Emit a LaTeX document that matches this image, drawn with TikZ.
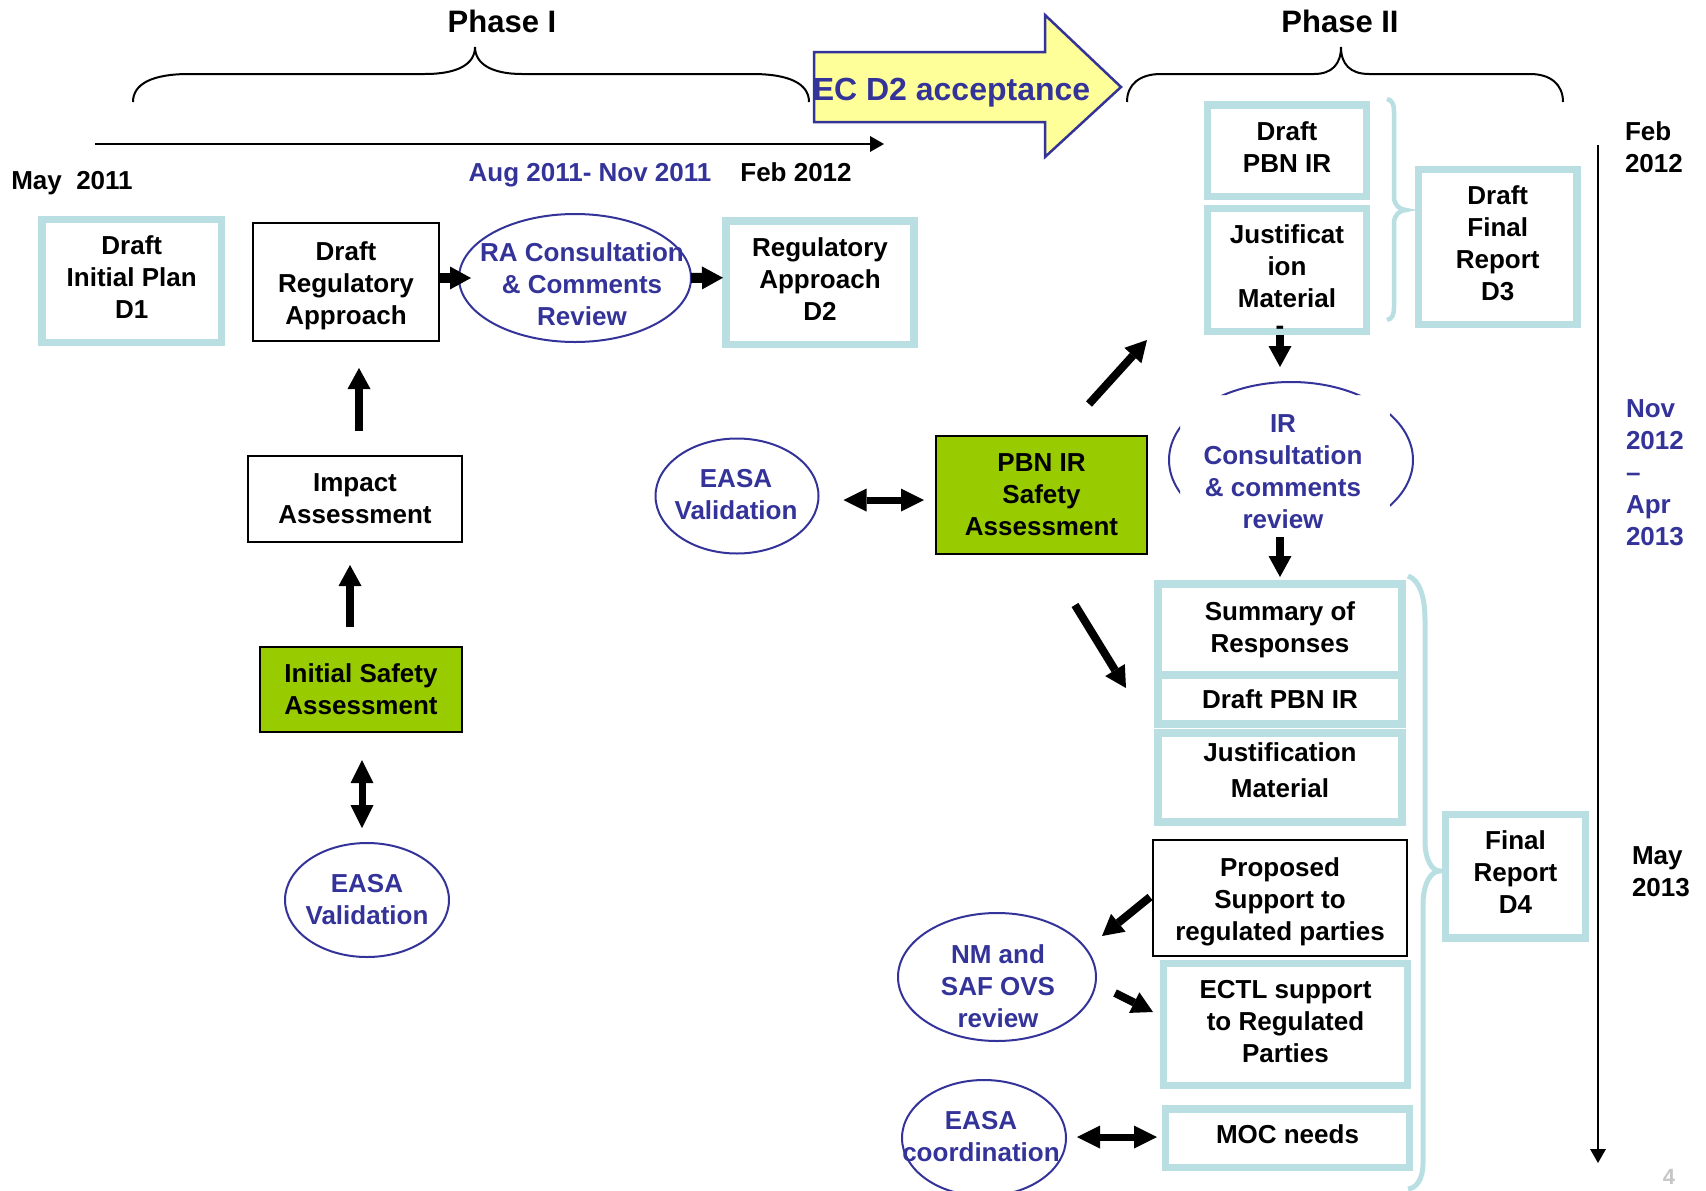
\documentclass[tikz,border=0pt]{standalone}
\usepackage{fontspec}
\setmainfont{Liberation Sans}
\usetikzlibrary{arrows.meta,shapes.geometric}
\definecolor{lb}{RGB}{185,223,227}
\definecolor{navy}{RGB}{51,51,153}
\definecolor{lgreen}{RGB}{153,204,0}
\definecolor{lyellow}{RGB}{255,255,153}
\newcommand{\lowfix}{\rule[-7pt]{0pt}{0pt}}
\newcommand{\hifix}{\rule{0pt}{26pt}}
\begin{document}
\begin{tikzpicture}[x=1pt,y=-1pt,
 every node/.style={font=\bfseries\fontsize{26}{32}\selectfont, align=center, inner sep=0pt, outer sep=0pt},
 lbox/.style={draw=lb, line width=7.5pt, fill=white},
 kbox/.style={draw=black, line width=2pt, fill=white},
 gbox/.style={draw=black, line width=2pt, fill=lgreen},
 ell/.style={ellipse, draw=navy, line width=2pt},
 btxt/.style={text=navy},
 blk/.style={line width=8pt, -{Triangle[width=23pt,length=21pt,line width=0pt]}},
 dblk/.style={line width=7pt, {Triangle[width=23pt,length=23pt,line width=0pt]}-{Triangle[width=23pt,length=23pt,line width=0pt]}},
 tline/.style={line width=2.5pt, -{Triangle[width=16pt,length=14pt,line width=0pt]}},
 brc/.style={line width=2pt},
 lbrc/.style={draw=lb, line width=4.5pt},
]
\useasboundingbox (0,0) rectangle (1706,1191);
\fill[white] (0,0) rectangle (1706,1191);

% phase braces
\draw[brc] (133,102) .. controls (133,84) and (152,74) .. (189,74) -- (425,74) .. controls (458,74) and (475,64) .. (475,47) .. controls (475,64) and (492,74) .. (522,74) -- (752,74) .. controls (790,74) and (809,84) .. (809,102);
\draw[brc] (1127,102) .. controls (1127,84) and (1140,74) .. (1161,74) -- (1314,74) .. controls (1332,74) and (1341,64) .. (1341,47) .. controls (1341,64) and (1350,74) .. (1369,74) -- (1530,74) .. controls (1550,74) and (1563,84) .. (1563,102);
\node[font=\bfseries\fontsize{31}{36}\selectfont, anchor=base] (ph1) at (502,32) {Phase I};
\node[font=\bfseries\fontsize{31}{36}\selectfont, anchor=base] (ph2) at (1340,32) {Phase II};

% timelines
\coordinate (tl0) at (95,144);
\coordinate (tl1) at (884,144);
\draw[tline] (tl0) -- (tl1);
\coordinate (tv0) at (1598,145);
\coordinate (tv1) at (1598,1163);
\draw[tline] (tv0) -- (tv1);

% yellow block arrow
\draw[fill=lyellow, draw=navy, line width=2.5pt, line join=miter] (814,52) -- (1045,52) -- (1045,15) -- (1121,87) -- (1045,157) -- (1045,122) -- (814,122) -- cycle;
\node[btxt, font=\bfseries\fontsize{32}{38}\selectfont, anchor=base] (ec) at (951.5,100) {EC D2 acceptance};

% date labels
\node[anchor=base] (may11) at (72,189) {May\ \ 2011};
\node[btxt, anchor=base] (augnov) at (590,181) {Aug 2011- Nov 2011};
\node[anchor=base] (feb12a) at (796,181) {Feb 2012};
\node[anchor=west, align=left] (feb12b) at (1625,147.5) {Feb\\2012};
\node[btxt, anchor=west, align=left] (novapr) at (1626,473) {Nov\\2012\\–\\Apr\\2013};
\node[anchor=west, align=left] (may13) at (1632,872) {May\\2013};
\node[text=gray!45, font=\bfseries\fontsize{22}{26}\selectfont] (pg) at (1669,1177) {4};

% light-blue braces
\draw[lbrc] (1387,99) .. controls (1392,100) and (1394,104) .. (1394,112) -- (1394,197) .. controls (1394,205) and (1400,210) .. (1406,210) .. controls (1400,210) and (1394,215) .. (1394,223) -- (1394,307) .. controls (1394,315) and (1392,319) .. (1387,320);
\draw[lbrc, line width=5pt] (1408,576) .. controls (1420,580) and (1425,598) .. (1425,620) -- (1425,841) .. controls (1425,860) and (1432,871) .. (1440,871) .. controls (1430,871) and (1423,885) .. (1423,905) -- (1423,1163) .. controls (1423,1180) and (1416,1188) .. (1408,1189);

% Phase I nodes
\node[lbox, minimum width=179.5pt, minimum height=123pt] (d1) at (131.75,281) {Draft\\Initial Plan\\D1\lowfix};
\node[kbox, minimum width=186pt, minimum height=118pt] (dreg) at (346,282) {\hifix Draft\\Regulatory\\Approach};
\node[ell, minimum width=232pt, minimum height=128pt] (ra) at (575,278) {};
\node[btxt] (rat) at (582,284) {RA Consultation\\\& Comments\\Review};
\node[lbox, minimum width=188pt, minimum height=123.5pt] (d2) at (820,282.75) {Regulatory\\Approach\\D2\lowfix};
\node[kbox, minimum width=214pt, minimum height=86pt] (impact) at (355,499) {Impact\\Assessment};
\node[gbox, minimum width=202pt, minimum height=85pt] (isa) at (361,689.5) {Initial Safety\\Assessment};
\node[ell, minimum width=164pt, minimum height=114pt] (easa1) at (367,900) {};
\node[btxt] (easa1t) at (367,900) {EASA\\Validation};

% Phase II nodes
\node[ell, minimum width=163pt, minimum height=115pt] (easa2) at (737,496) {};
\node[btxt] (easa2t) at (736,495) {EASA\\Validation};
\node[gbox, minimum width=211pt, minimum height=118pt] (pbn) at (1041.5,495) {PBN IR\\Safety\\Assessment};
\node[lbox, minimum width=159pt, minimum height=91.5pt] (dpbn1) at (1287,150.75) {Draft\\PBN IR\lowfix};
\node[lbox, minimum width=159pt, minimum height=123pt] (jus1) at (1287,270) {Justificat\\ion\\Material\lowfix};
\node[anchor=base] (dash) at (1280,334) {-};
\node[lbox, minimum width=158.5pt, minimum height=155pt] (d3) at (1497.75,247) {Draft\\Final\\Report\\D3\lowfix};
\begin{scope}
\clip (0,0) rectangle (1706,395) (0,0) rectangle (1180,1191) (1390,0) rectangle (1706,1191);
\node[ell, minimum width=244pt, minimum height=156pt] (ir) at (1291,460) {};
\end{scope}
\node[btxt] (irt) at (1283,472) {IR\\Consultation\\\& comments\\review};
\node[lbox, minimum width=244pt, minimum height=91pt] (sum) at (1280,629.5) {Summary of\\Responses};
\node[lbox, minimum width=244pt, minimum height=49pt] (dpbn2) at (1280,699.5) {Draft PBN IR};
\node[lbox, minimum width=244pt, minimum height=89pt] (jus2) at (1280,777.5) {};
\node (jus2t) at (1280,770) {Justification\\[4pt]Material};
\node[kbox, minimum width=254pt, minimum height=116pt] (prop) at (1280,898) {\hifix Proposed\\Support to\\regulated parties};
\node[lbox, minimum width=244pt, minimum height=122pt] (ectl) at (1285.5,1024.5) {ECTL support\\to Regulated\\Parties\lowfix};
\node[lbox, minimum width=244pt, minimum height=58.5pt] (moc) at (1287.5,1138) {MOC needs\lowfix};
\node[lbox, minimum width=140pt, minimum height=123.5pt] (d4) at (1515.5,876) {Final\\Report\\D4\lowfix};
\node[ell, minimum width=198pt, minimum height=128pt] (nm) at (997,977) {};
\node[btxt] (nmt) at (998,986) {NM and\\SAF OVS\\review};
\node[ell, minimum width=164pt, minimum height=116pt] (easac) at (984,1138) {};
\node[btxt] (easact) at (981,1137) {EASA\\coordination};

% arrows
\draw[blk, line width=10pt] ([yshift=4pt]dreg.east) -- ([xshift=12pt]ra.west);
\draw[blk, line width=10pt] (ra.east) -- ([xshift=-3pt,yshift=5pt]d2.west);
\draw[blk] ([xshift=4pt,yshift=25pt]impact.north) -- ([xshift=13pt,yshift=-27pt]dreg.south);
\draw[blk] ([xshift=-11pt,yshift=20pt]isa.north) -- ([xshift=-5pt,yshift=-23pt]impact.south);
\draw[dblk] ([xshift=1pt,yshift=-28pt]isa.south) -- ([xshift=-5pt,yshift=15pt]easa1.north);
\draw[dblk] ([xshift=25pt,yshift=-4pt]easa2.east) -- ([xshift=-12pt,yshift=-5pt]pbn.west);
\draw[blk] ([xshift=47.5pt,yshift=32pt]pbn.north) -- ([xshift=-60.5pt,yshift=-8.5pt]jus1.south west);
\draw[blk] ([xshift=33.5pt,yshift=-51pt]pbn.south) -- ([xshift=-32pt,yshift=-58.5pt]sum.west);
\draw[blk] ([xshift=-7pt,yshift=-3.5pt]jus1.south) -- ([xshift=-11pt,yshift=15pt]ir.north);
\draw[blk] ([xshift=-11pt,yshift=1pt]ir.south) -- ([yshift=7pt]sum.north);
\draw[blk] ([xshift=-3pt,yshift=1pt]prop.west) -- ([xshift=6pt,yshift=41pt]nm.east);
\draw[blk] ([xshift=19pt,yshift=-16pt]nm.east) -- ([xshift=-10.5pt,yshift=12.5pt]ectl.west);
\draw[dblk] ([xshift=11pt,yshift=1pt]easac.east) -- ([xshift=-8.5pt,yshift=1pt]moc.west);
\end{tikzpicture}
\end{document}
